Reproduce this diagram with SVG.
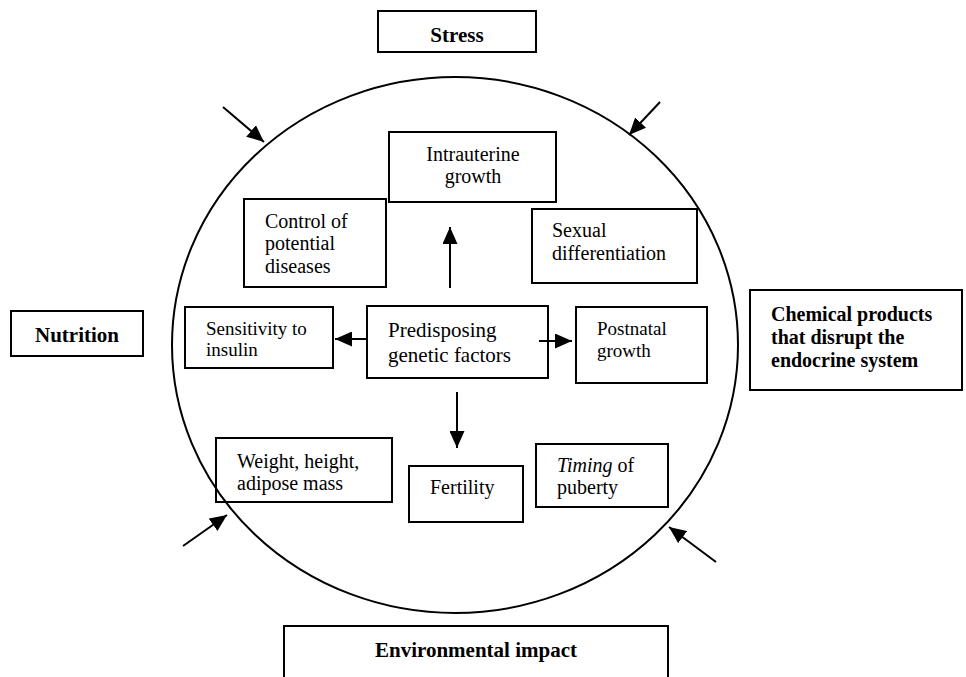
<svg xmlns="http://www.w3.org/2000/svg" width="966" height="677" viewBox="0 0 966 677">
<style>
.box{fill:none;stroke:#000;stroke-width:2}
.t{font-family:"Liberation Serif","Times New Roman",serif;font-size:20px;fill:#000}
.s{font-family:"Liberation Serif","Times New Roman",serif;font-size:19px;fill:#000}
.m{font-family:"Liberation Serif","Times New Roman",serif;font-size:21px;fill:#000}
.b{font-family:"Liberation Serif","Times New Roman",serif;font-size:21px;font-weight:bold;fill:#000}
.b2{font-family:"Liberation Serif","Times New Roman",serif;font-size:20px;font-weight:bold;fill:#000}
.c{text-anchor:middle}
.ln{fill:none;stroke:#000;stroke-width:2}
</style>
<defs>
<marker id="ah" markerUnits="userSpaceOnUse" markerWidth="17" markerHeight="15" refX="17" refY="7.5" orient="auto">
<path d="M0,0 L17,7.5 L0,15 z" fill="#000"/>
</marker>
</defs>
<rect width="966" height="677" fill="#fff"/>
<ellipse cx="455" cy="345" rx="283" ry="268" fill="none" stroke="#000" stroke-width="2"/>
<g id="stress"><rect class="box" x="378" y="11" width="158" height="41"/><text class="b c" x="457" y="42">Stress</text></g>
<g id="intrauterine"><rect class="box" x="389" y="132" width="167" height="70"/><text class="t c" x="473" y="161">Intrauterine</text><text class="t c" x="473" y="183">growth</text></g>
<g id="control"><rect class="box" x="244" y="199" width="142" height="88"/><text class="t" x="265" y="228">Control of</text><text class="t" x="265" y="250">potential</text><text class="t" x="265" y="273">diseases</text></g>
<g id="sexual"><rect class="box" x="532" y="209" width="165" height="74"/><text class="t" x="552" y="237">Sexual</text><text class="t" x="552" y="260">differentiation</text></g>
<g id="nutrition"><rect class="box" x="11" y="311" width="132" height="45"/><text class="b c" x="77" y="342">Nutrition</text></g>
<g id="sensitivity"><rect class="box" x="185" y="307" width="148" height="61"/><text class="s" x="206" y="335">Sensitivity to</text><text class="s" x="206" y="356">insulin</text></g>
<g id="predisposing"><rect class="box" x="367" y="306" width="181" height="72"/><text class="m" x="388" y="337">Predisposing</text><text class="m" x="388" y="362">genetic factors</text></g>
<g id="postnatal"><rect class="box" x="576" y="307" width="131" height="76"/><text class="s" x="597" y="335">Postnatal</text><text class="s" x="597" y="357">growth</text></g>
<g id="chemical"><rect class="box" x="750" y="290" width="212" height="100"/><text class="b2" x="771" y="321">Chemical products</text><text class="b2" x="771" y="344">that disrupt the</text><text class="b2" x="771" y="367">endocrine system</text></g>
<g id="weight"><rect class="box" x="216" y="438" width="176" height="64"/><text class="t" x="237" y="468">Weight, height,</text><text class="t" x="237" y="490">adipose mass</text></g>
<g id="fertility"><rect class="box" x="409" y="466" width="114" height="56"/><text class="t" x="430" y="494">Fertility</text></g>
<g id="timing"><rect class="box" x="536" y="444" width="132" height="63"/><text class="t" x="557" y="472"><tspan font-style="italic">Timing</tspan> of</text><text class="t" x="557" y="494">puberty</text></g>
<g id="environmental"><rect class="box" x="284" y="626" width="384" height="80"/><text class="b c" x="476" y="657">Environmental impact</text></g>
<g id="connectors">
<line class="ln" x1="450" y1="288" x2="450" y2="227" marker-end="url(#ah)"/>
<line class="ln" x1="367" y1="339" x2="335" y2="339" marker-end="url(#ah)"/>
<line class="ln" x1="539" y1="341" x2="572" y2="341" marker-end="url(#ah)"/>
<line class="ln" x1="457" y1="392" x2="457" y2="448" marker-end="url(#ah)"/>
<line class="ln" x1="223" y1="107" x2="264" y2="142" marker-end="url(#ah)"/>
<line class="ln" x1="660" y1="102" x2="629" y2="135" marker-end="url(#ah)"/>
<line class="ln" x1="183" y1="546" x2="227" y2="515" marker-end="url(#ah)"/>
<line class="ln" x1="716" y1="562" x2="669" y2="527" marker-end="url(#ah)"/>
</g>
</svg>
